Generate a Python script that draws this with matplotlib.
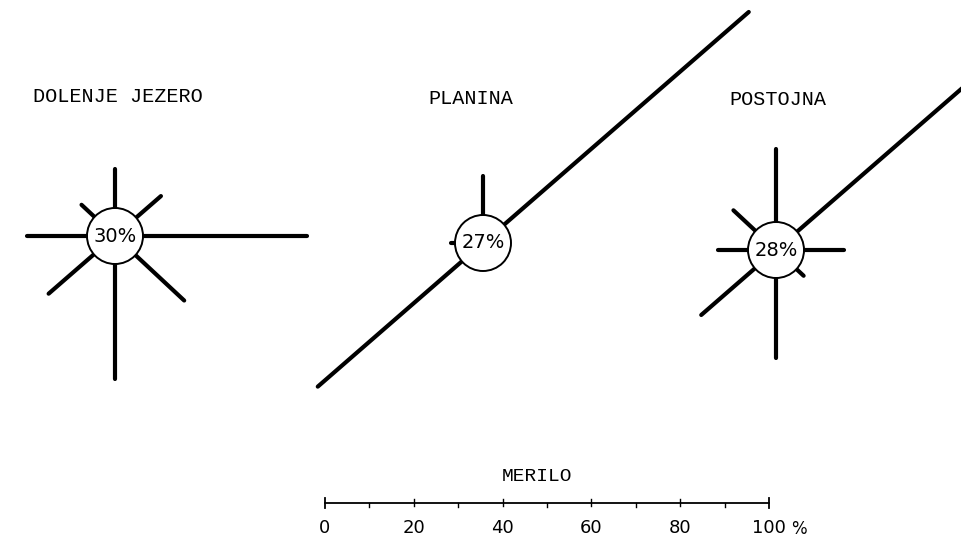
import numpy as np
import matplotlib.pyplot as plt
from matplotlib.patches import Circle

# wind roses: frequency of wind per direction (%), calm (%) in the circle
directions = ['N', 'NE', 'E', 'SE', 'S', 'SW', 'W', 'NW']
stations = ['DOLENJE JEZERO', 'PLANINA', 'POSTOJNA']
calm = [30, 27, 28]
dolenje_jezero = [8.8, 7.4, 37.0, 15.0, 26.0, 13.5, 13.5, 4.0]
planina = [8.8, 73.0, 0.0, 0.0, 0.0, 43.0, 1.0, 0.0]
postojna = [16.4, 65.0, 9.0, 2.2, 18.0, 16.0, 6.8, 6.8]
scale_ticks = [0, 20, 40, 60, 80, 100]

# layout (pixels)
centers = [(115, 236), (483, 243), (776, 250)]
title_pos = [(118, 96), (471, 98), (778, 99)]
radius = 28
px_per_pct = 4.44
angles = {'N': 90, 'NE': 41, 'E': 0, 'SE': -43, 'S': -90, 'SW': 221, 'W': 180, 'NW': 137}
mono = 'Liberation Mono'

fig = plt.figure(figsize=(9.62, 5.39), dpi=100)
ax = fig.add_axes([0, 0, 1, 1])
ax.set_xlim(0, 962)
ax.set_ylim(539, 0)
ax.set_aspect('equal')
ax.axis('off')

for name, vals, c, (cx, cy), (tx, ty) in zip(stations, [dolenje_jezero, planina, postojna],
                                            calm, centers, title_pos):
    for d, v in zip(directions, vals):
        if v <= 0:
            continue
        a = np.radians(angles[d])
        r = radius + v * px_per_pct
        ax.plot([cx, cx + r * np.cos(a)], [cy, cy - r * np.sin(a)],
                color='black', lw=3.0, solid_capstyle='round', zorder=2)
    ax.add_patch(Circle((cx, cy), radius, fc='white', ec='black', lw=1.4, zorder=3))
    ax.text(cx, cy, f'{c}%', ha='center', va='center', fontsize=14, zorder=4)
    ax.text(tx, ty, name, ha='center', va='center', fontsize=14.5, family=mono)

# scale bar
x0 = 325
y0 = 503
ax.plot([x0, x0 + 100 * px_per_pct], [y0, y0], color='black', lw=1.3)
for t in range(0, 101, 10):
    x = x0 + t * px_per_pct
    if t in (0, 100):
        ax.plot([x, x], [y0 - 5, y0 + 5], color='black', lw=1.3)
    elif t in scale_ticks:
        ax.plot([x, x], [y0 - 4, y0 + 3], color='black', lw=1.0)
    else:
        ax.plot([x, x], [y0, y0 + 4], color='black', lw=1.0)
for t in scale_ticks:
    ax.text(x0 + t * px_per_pct, y0 + 25, str(t), ha='center', va='center', fontsize=13)
ax.text(x0 + 100 * px_per_pct + 22, y0 + 26, '%', ha='left', va='center', fontsize=12)
ax.text(537, 477, 'MERILO', ha='center', va='center', fontsize=14, family=mono)

fig.savefig('out.png', dpi=100)
